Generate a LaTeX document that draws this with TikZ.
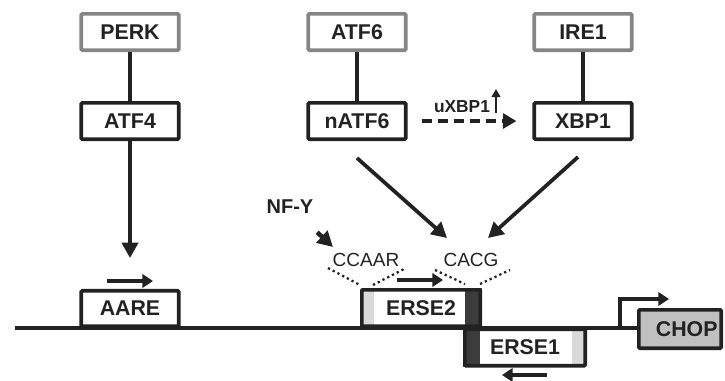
\documentclass[tikz,border=0pt]{standalone}
\usepackage{fontspec}
\setmainfont{Liberation Sans}
\usetikzlibrary{arrows.meta}
\definecolor{ink}{HTML}{222222}
\definecolor{gborder}{HTML}{858585}
\definecolor{darkstrip}{HTML}{3C3C3C}
\definecolor{lightstrip}{HTML}{D9D9D9}
\definecolor{chopfill}{HTML}{C0C0C0}
\begin{document}
\begin{tikzpicture}[x=0.75pt,y=-0.75pt,
  box/.style={draw=ink, line width=2.8pt, minimum width=73pt, minimum height=27.2pt, inner sep=0pt,
    font=\fontsize{16}{18}\selectfont\bfseries, text=ink, rounded corners=0.75pt},
  gbox/.style={box, draw=gborder},
  arr/.style={draw=ink, line width=2.8pt, -{Triangle[length=11.5pt,width=12pt]}},
  sarr/.style={draw=ink, line width=2.8pt, -{Triangle[length=8pt,width=10pt]}},
  dotline/.style={draw=ink, line width=1.7pt, dash pattern=on 1.7pt off 2.3pt},
  conn/.style={draw=ink, line width=2.8pt},
  lbl/.style={text=ink, inner sep=1pt}]
\useasboundingbox (0,0) rectangle (725,380);

% strips inside ERSE boxes
\fill[lightstrip] (360,288) rectangle (374,328);
\fill[darkstrip] (465,288) rectangle (482,328);
\fill[darkstrip] (463,328) rectangle (480,367);
\fill[lightstrip] (572,328) rectangle (587,367);

% top row
\node[gbox] (perk) at (130,32) {PERK};
\node[box] (atf4) at (130,121) {ATF4};
\node[gbox] (atf6) at (357,32) {ATF6};
\node[box] (natf6) at (357,121) {nATF6};
\node[gbox] (ire1) at (583,32) {IRE1};
\node[box] (xbp1) at (583,121) {XBP1};

\draw[conn] (perk) -- (atf4);
\draw[conn] (atf6) -- (natf6);
\draw[conn] (ire1) -- (xbp1);

% uXBP1 dashed arrow
\node[lbl, font=\fontsize{13}{15}\selectfont\bfseries] (uxbp) at (462,107) {uXBP1};
\coordinate (upA) at (496,113);
\coordinate (upB) at (496,89);
\draw[draw=ink, line width=1.9pt, -{Triangle[length=6pt,width=6.5pt]}] (upA) -- (upB);
\draw[draw=ink, line width=2.7pt, dash pattern=on 7.5pt off 4.5pt, -{Triangle[length=10pt,width=11pt]},
  shorten <=10.5pt, shorten >=12pt] (natf6.east) -- (xbp1.west);

% main line and promoter elements
\node[box, minimum height=26.5pt] (aare) at (130,308.5) {AARE};
\node[box, minimum width=88.7pt] (erse2) at (421,308) {ERSE2};
\node[box, minimum width=90.2pt] (erse1) at (525,347.5) {ERSE1};

\coordinate (lstart) at (15,328);
\node[box, fill=chopfill, minimum width=61.7pt, minimum height=28.7pt] (chop) at (680,329) {\hspace*{10pt}CHOP};
\draw[conn] (lstart) -- (lstart -| chop.west);

% transcription start
\coordinate (tss) at (620,328);
\coordinate (tssEnd) at (669,299);
\draw[sarr, rounded corners=0pt] (tss) |- (tssEnd);

% ATF4 arrow
\coordinate (aareTip) at (130,258);
\draw[arr] (atf4.south) -- (aareTip);

% small orientation arrows
\coordinate (a1) at (107,281); \coordinate (a2) at (153,281);
\draw[sarr] (a1) -- (a2);
\coordinate (b1) at (397,280); \coordinate (b2) at (443,280);
\draw[sarr] (b1) -- (b2);
\coordinate (c1) at (547,375); \coordinate (c2) at (502,375);
\draw[sarr] (c1) -- (c2);

% labels
\node[lbl, font=\fontsize{15}{18}\selectfont\bfseries] (nfy) at (290,207) {NF-Y};
\node[lbl, font=\fontsize{14.25}{17}\selectfont] (ccaar) at (366,260) {CCAAR};
\node[lbl, font=\fontsize{14.25}{17}\selectfont] (cacg) at (471,260) {CACG};

% dotted V lines
\coordinate (d1) at (328,268); \coordinate (d2) at (360,285);
\coordinate (d3) at (373,285); \coordinate (d4) at (404,269);
\coordinate (d5) at (435,270); \coordinate (d6) at (465,284);
\coordinate (d7) at (480,284); \coordinate (d8) at (510,270);
\draw[dotline] (d1) -- (d2);
\draw[dotline] (d3) -- (d4);
\draw[dotline] (d5) -- (d6);
\draw[dotline] (d7) -- (d8);

% arrows to sites
\coordinate (nfyTip) at (333,247);
\draw[arr, line width=3.3pt, shorten <=18.5pt] (nfy) -- (nfyTip);
\coordinate (t1) at (447,238);
\coordinate (t2) at (488,238);
\draw[arr] ([yshift=-12.75pt]natf6.south) -- (t1);
\draw[arr] ([shift={(-5,16)}]xbp1.south) -- (t2);
\end{tikzpicture}
\end{document}
